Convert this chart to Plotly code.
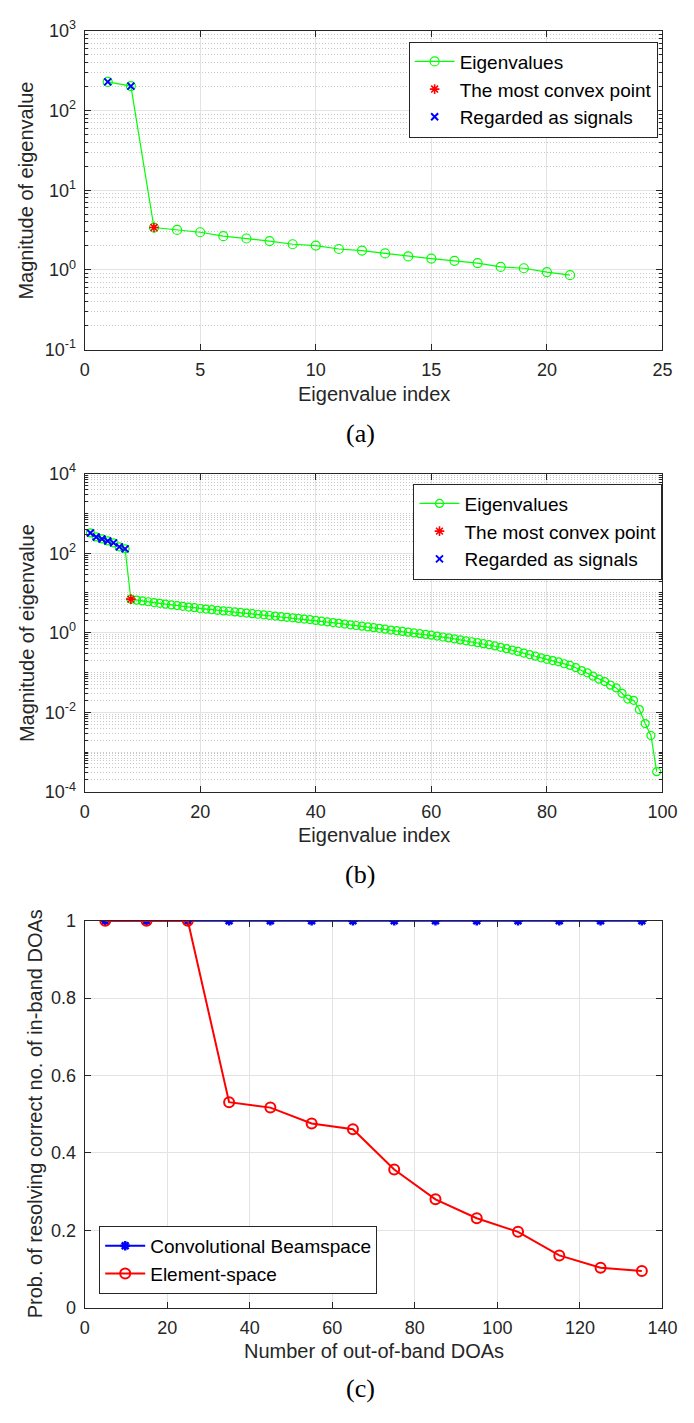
import plotly.graph_objects as go

W, H = 694, 1423
FONT = "Liberation Sans, Arial, Helvetica, sans-serif"
SERIF = "Liberation Serif, Times New Roman, serif"
INK = "#262626"

# ---- (a) eigenvalues of the 21-element covariance ----
a_index = list(range(1, 22))
a_eig = [228, 202, 3.4, 3.18, 2.97, 2.65, 2.48, 2.30, 2.10, 2.02, 1.83,
         1.75, 1.61, 1.48, 1.39, 1.30, 1.22, 1.09, 1.05, 0.94, 0.86]
a_signals = [1, 2]
a_convex = 3
a_xticks = [0, 5, 10, 15, 20, 25]
a_yticks = [0.1, 1, 10, 100, 1000]
a_yticktext = ["10<sup>-1</sup>", "10<sup>0</sup>", "10<sup>1</sup>",
               "10<sup>2</sup>", "10<sup>3</sup>"]

# ---- (b) eigenvalues of the 99-element covariance ----
b_eig = [324, 257, 229, 204, 182, 145, 129, 7.0,
         6.61, 6.31, 6.03, 5.75, 5.50, 5.25, 5.01, 4.84, 4.62, 4.42,
         4.27, 4.07, 3.94, 3.80, 3.67, 3.55, 3.47, 3.35, 3.24, 3.13,
         3.02, 2.92, 2.82, 2.72, 2.63, 2.54, 2.45, 2.37, 2.29, 2.21,
         2.14, 2.04, 1.95, 1.87, 1.80, 1.73, 1.65, 1.58, 1.52, 1.46,
         1.40, 1.34, 1.29, 1.23, 1.17, 1.13, 1.08, 1.035, 0.99, 0.95,
         0.91, 0.87, 0.826, 0.782, 0.741, 0.700, 0.661, 0.627, 0.593, 0.562,
         0.531, 0.501, 0.465, 0.431, 0.398, 0.367, 0.339, 0.309, 0.282, 0.257,
         0.234, 0.214, 0.200, 0.186, 0.166, 0.151, 0.132, 0.112, 0.098, 0.081,
         0.068, 0.059, 0.048, 0.041, 0.030, 0.0214, 0.020, 0.0117, 0.0052, 0.0026,
         0.00032]
b_index = list(range(1, len(b_eig) + 1))
b_signals = [1, 2, 3, 4, 5, 6, 7]
b_convex = 8
b_xticks = [0, 20, 40, 60, 80, 100]
b_yticks = [1e-4, 1e-2, 1, 1e2, 1e4]
b_yticktext = ["10<sup>-4</sup>", "10<sup>-2</sup>", "10<sup>0</sup>",
               "10<sup>2</sup>", "10<sup>4</sup>"]

# ---- (c) probability of resolving the in-band DOAs ----
c_doas = [5, 15, 25, 35, 45, 55, 65, 75, 85, 95, 105, 115, 125, 135]
c_beamspace = [1, 1, 1, 1, 1, 1, 1, 1, 1, 1, 1, 1, 1, 1]
c_element = [1, 1, 1, 0.531, 0.517, 0.476, 0.461, 0.357, 0.280, 0.231,
             0.196, 0.135, 0.103, 0.095]
c_xticks = [0, 20, 40, 60, 80, 100, 120, 140]
c_yticks = [0, 0.2, 0.4, 0.6, 0.8, 1]


def fx(p):
    return p / W


def fy(p):
    return 1 - p / H


GREEN, RED, BLUE = "#00ff00", "#ff0000", "#0000ff"

fig = go.Figure()


def eigen_panel(idx, eig, sig, cvx, xa, ya, leg, msize):
    fig.add_trace(go.Scatter(
        x=idx, y=eig, mode="lines+markers", name="Eigenvalues",
        line=dict(color=GREEN, width=1.2),
        marker=dict(symbol="circle-open", size=msize, color=GREEN,
                    line=dict(width=1.2)),
        xaxis=xa, yaxis=ya, legend=leg))
    fig.add_trace(go.Scatter(
        x=[cvx], y=[eig[cvx - 1]], mode="markers",
        name="The most convex point",
        marker=dict(symbol="asterisk-open", size=8, color=RED,
                    line=dict(width=1.6, color=RED)),
        xaxis=xa, yaxis=ya, legend=leg))
    fig.add_trace(go.Scatter(
        x=sig, y=[eig[i - 1] for i in sig], mode="markers",
        name="Regarded as signals",
        marker=dict(symbol="x-thin-open", size=7, color=BLUE,
                    line=dict(width=2, color=BLUE)),
        xaxis=xa, yaxis=ya, legend=leg))


eigen_panel(a_index, a_eig, a_signals, a_convex, "x", "y", "legend", 9)
eigen_panel(b_index, b_eig, b_signals, b_convex, "x2", "y2", "legend2", 8)

fig.add_trace(go.Scatter(
    x=c_doas, y=c_beamspace, mode="lines+markers",
    name="Convolutional Beamspace",
    line=dict(color=BLUE, width=2),
    marker=dict(symbol="asterisk-open", size=8, color=BLUE,
                line=dict(width=2.5, color=BLUE)),
    xaxis="x3", yaxis="y3", legend="legend3"))
fig.add_trace(go.Scatter(
    x=c_doas, y=c_element, mode="lines+markers", name="Element-space",
    line=dict(color=RED, width=2),
    marker=dict(symbol="circle-open", size=10, color=RED,
                line=dict(width=2, color=RED)),
    xaxis="x3", yaxis="y3", legend="legend3"))

tickfont = dict(family=FONT, size=18, color=INK)
base = dict(showline=True, linecolor=INK, linewidth=1, mirror="ticks",
            ticks="inside", ticklen=6, tickcolor=INK, tickfont=tickfont,
            showgrid=True, gridcolor="#e3e3e3", gridwidth=1, zeroline=False,
            ticklabelstandoff=4)
minor_log = dict(ticks="inside", ticklen=3, tickcolor=INK, dtick="D1",
                 showgrid=True, gridcolor="#c8c8c8", griddash="1px,2px",
                 gridwidth=1)


def xa(dom_px, rng, ticks, anchor):
    return dict(base, domain=[fx(dom_px[0]), fx(dom_px[1])], range=rng,
                tickvals=ticks, anchor=anchor)


def ya_log(dom_px, rng, ticks, text, anchor):
    return dict(base, type="log", domain=[fy(dom_px[1]), fy(dom_px[0])],
                range=rng, tickvals=ticks, ticktext=text, anchor=anchor,
                minor=minor_log)


A_Y, B_Y, C_Y = (19, 343), (469, 792), (923, 1316)
X_PX = (82, 677)

fig.update_layout(
    width=W, height=H, margin=dict(l=0, r=0, t=0, b=0),
    paper_bgcolor="white", plot_bgcolor="white",
    font=dict(family=FONT, color=INK, size=18),
    xaxis=xa(X_PX, [0, 25], a_xticks, "y"),
    yaxis=ya_log(A_Y, [-1, 3], a_yticks, a_yticktext, "x"),
    xaxis2=xa(X_PX, [0, 100], b_xticks, "y2"),
    yaxis2=ya_log(B_Y, [-4, 4], b_yticks, b_yticktext, "x2"),
    xaxis3=xa(X_PX, [0, 140], c_xticks, "y3"),
    yaxis3=dict(base, domain=[fy(C_Y[1]), fy(C_Y[0])], range=[0, 1],
                tickvals=c_yticks, anchor="x3"),
    showlegend=True,
)

legend_style = dict(bgcolor="white", bordercolor=INK, borderwidth=1,
                    font=dict(family=FONT, size=19, color="black"),
                    itemwidth=40, tracegroupgap=0)
fig.update_layout(
    legend=dict(legend_style, x=fx(672), y=fy(30), xanchor="right",
                yanchor="top"),
    legend2=dict(legend_style, x=fx(677), y=fy(479), xanchor="right",
                 yanchor="top"),
    legend3=dict(legend_style, x=fx(97), y=fy(1302), xanchor="left",
                 yanchor="bottom"),
)

anns = []
title_font = dict(family=FONT, size=20, color=INK)
xmid = fx((X_PX[0] + X_PX[1]) / 2)
for text, ypx in [("Eigenvalue index", 388), ("Eigenvalue index", 836),
                  ("Number of out-of-band DOAs", 1360)]:
    anns.append(dict(text=text, x=xmid, y=fy(ypx), xref="paper",
                     yref="paper", showarrow=False, font=title_font,
                     xanchor="center", yanchor="middle"))
for text, xpx, (t, b) in [("Magnitude of eigenvalue", 22, A_Y),
                          ("Magnitude of eigenvalue", 22, B_Y),
                          ("Prob. of resolving correct no. of in-band DOAs",
                           31, C_Y)]:
    anns.append(dict(text=text, x=fx(xpx), y=fy((t + b) / 2), xref="paper",
                     yref="paper", showarrow=False, font=title_font,
                     textangle=-90, xanchor="center", yanchor="middle"))
for text, ypx in [("(a)", 428), ("(b)", 876), ("(c)", 1398)]:
    anns.append(dict(text=text, x=fx(366), y=fy(ypx), xref="paper",
                     yref="paper", showarrow=False,
                     font=dict(family=SERIF, size=26, color="black"),
                     xanchor="center", yanchor="middle"))
fig.update_layout(annotations=anns)

fig.write_html("out.html")
